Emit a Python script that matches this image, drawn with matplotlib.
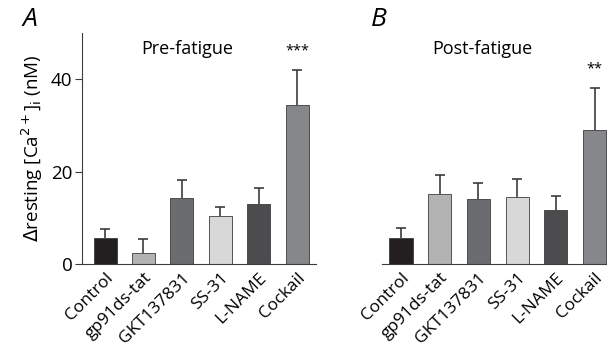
import numpy as np
import matplotlib
matplotlib.use("Agg")
import matplotlib.pyplot as plt

plt.rcParams["font.family"] = ["Open Sans", "DejaVu Sans"]

# Data
groups = ["Control", "gp91ds-tat", "GKT137831", "SS-31", "L-NAME", "Cockail"]
bar_colors = ["#231f20", "#b3b3b3", "#6b6c6f", "#d8d8d9", "#4c4c4e", "#86878a"]

pre_mean = [5.6, 2.3, 14.3, 10.4, 12.9, 34.5]
pre_sem = [2.0, 3.1, 3.9, 1.9, 3.6, 7.4]
post_mean = [5.6, 15.1, 14.1, 14.6, 11.7, 28.9]
post_sem = [2.2, 4.2, 3.5, 3.9, 3.1, 9.1]

W, H = 607, 358
fig = plt.figure(figsize=(W / 100, H / 100), dpi=100)


def px_axes(left, right, top, bottom):
    return fig.add_axes([left / W, 1 - bottom / H, (right - left) / W, (bottom - top) / H])


ax_a = px_axes(82, 316, 33, 264)
ax_b = px_axes(382, 607, 33, 264)

x = np.arange(len(groups))
for ax, means, errs in [(ax_a, pre_mean, pre_sem), (ax_b, post_mean, post_sem)]:
    ax.bar(x, means, width=0.6, color=bar_colors, edgecolor="#3c3c3c", linewidth=0.6, zorder=2)
    _, caps, _ = ax.errorbar(x, means, yerr=[np.zeros(len(errs)), errs], fmt="none",
                             ecolor="#3c3c3c", elinewidth=1.2, capsize=3.5, capthick=1.2, zorder=1)
    caps[0].remove()  # only the upper cap is drawn
    ax.set_ylim(0, 50)
    ax.set_xticks(x)
    ax.set_xticklabels(groups, rotation=45, ha="right", rotation_mode="anchor", fontsize=12.5)
    ax.tick_params(axis="x", length=0, pad=4)
    for s in ["top", "right"]:
        ax.spines[s].set_visible(False)
    ax.spines["bottom"].set_color("#3c3c3c")
    ax.spines["left"].set_color("#3c3c3c")

ax_a.set_xlim(-0.6, 5.49)
ax_b.set_xlim(-0.49, 5.32)

ax_a.set_yticks([0, 20, 40])
ax_a.tick_params(axis="y", labelsize=13.5, length=5, color="#3c3c3c", pad=2)
ax_a.set_ylabel(r"$\Delta$resting [Ca$^{2+}$]$_\mathrm{i}$ (nM)", fontsize=13.5, labelpad=4)

ax_b.spines["left"].set_visible(False)
ax_b.set_yticks([])

ax_a.text(0.45, 0.93, "Pre-fatigue", transform=ax_a.transAxes, ha="center", va="center", fontsize=13)
ax_b.text(0.445, 0.93, "Post-fatigue", transform=ax_b.transAxes, ha="center", va="center", fontsize=13)
ax_a.text(5, 44.5, "***", ha="center", va="bottom", fontsize=10.5)
ax_b.text(5, 40.5, "**", ha="center", va="bottom", fontsize=10.5)

fig.text(22 / W, 1 - 20 / H, "A", fontsize=19, style="italic", ha="left", va="center")
fig.text(371 / W, 1 - 20 / H, "B", fontsize=19, style="italic", ha="left", va="center")

fig.savefig("out.png", dpi=100)
